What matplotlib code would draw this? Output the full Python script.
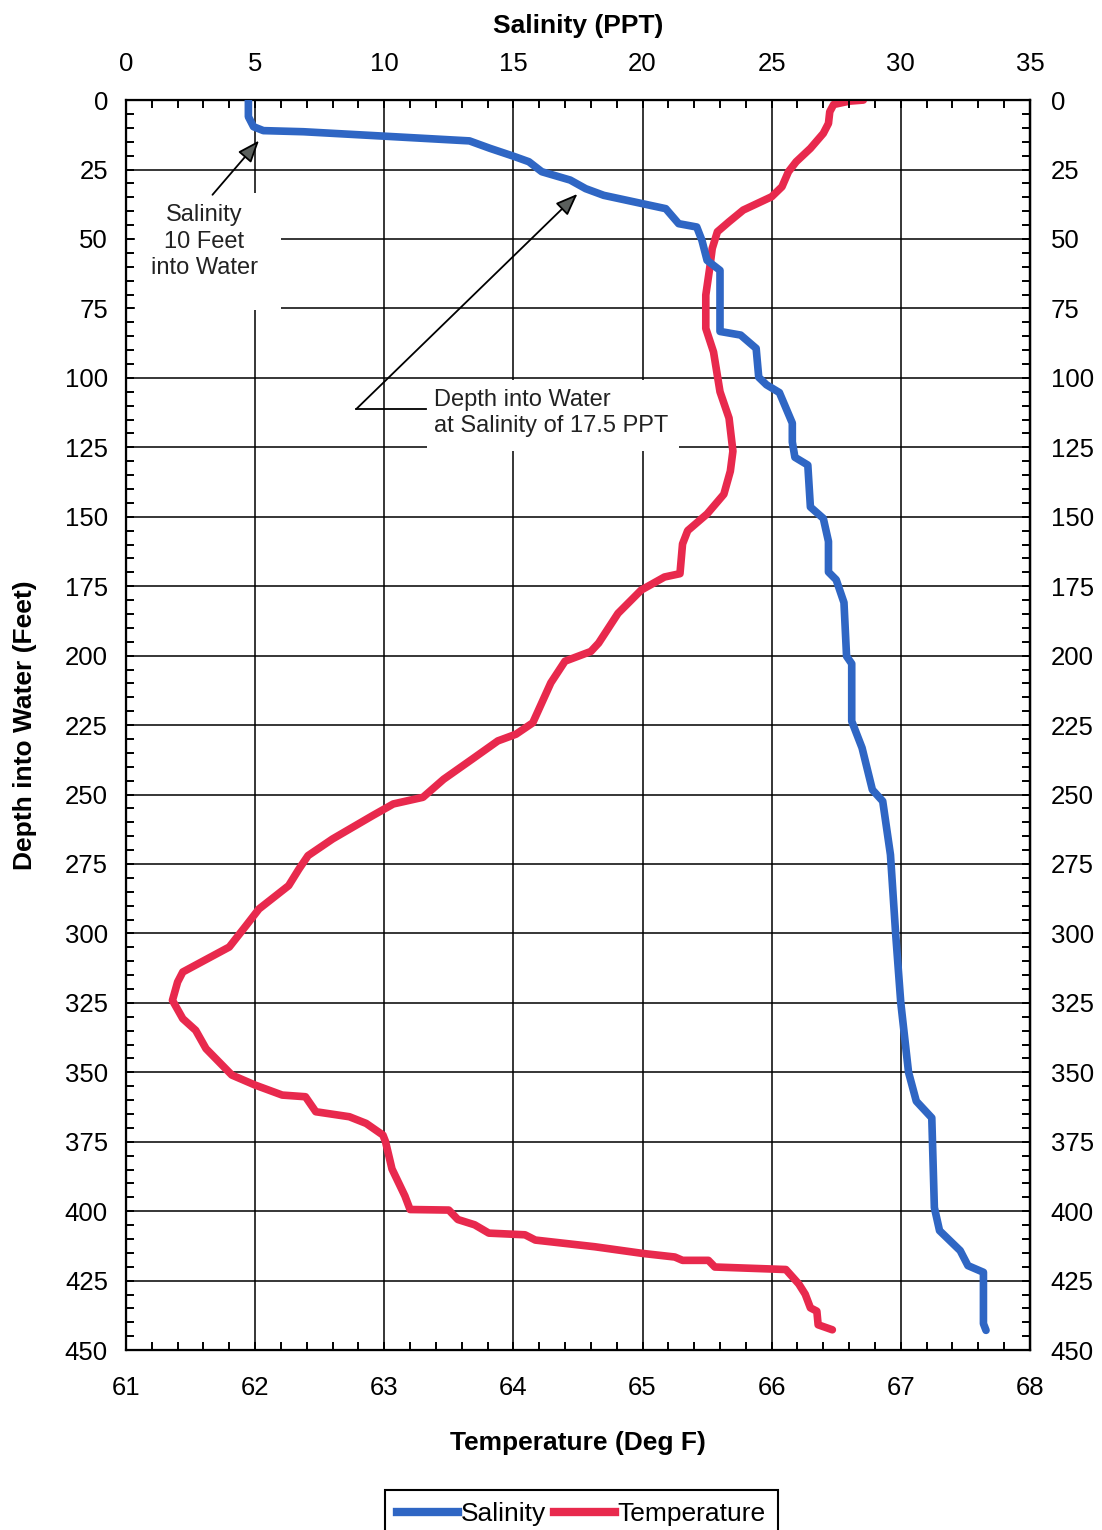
import matplotlib
matplotlib.use('Agg')
import matplotlib.pyplot as plt
from matplotlib.patches import Rectangle
from matplotlib.lines import Line2D
from matplotlib.ticker import MultipleLocator

plt.rcParams['font.family'] = ['Liberation Sans', 'DejaVu Sans']

# salinity profile: PPT against depth (feet)
sal_depth = [0, 6, 9.6, 11, 11.4, 13, 14.7, 17.4, 20.2, 22.2, 25.8, 28.8, 31.9, 34.3,
             37.3, 39.1, 44.5, 45.7, 50.5, 57.7, 61.3, 83.3, 84.6, 89.4, 99.8, 102.5,
             105.3, 116.3, 123.1, 128.6, 131.4, 146.5, 150.6, 158.9, 169.9, 172.7,
             180.9, 200.2, 202.9, 223.6, 233.2, 248.3, 252.4, 271.7, 300, 325, 350,
             360.4, 366.4, 398.7, 407, 414.2, 419.6, 422, 440.5, 442.9]
salinity = [4.74, 4.74, 4.94, 5.32, 6.87, 10.0, 13.3, 14.1, 15.0, 15.6, 16.1, 17.2, 17.8, 18.5,
            20.0, 20.9, 21.4, 22.1, 22.3, 22.5, 23.0, 23.0, 23.8, 24.4, 24.5, 24.8,
            25.3, 25.8, 25.8, 25.9, 26.4, 26.5, 27.0, 27.2, 27.2, 27.5,
            27.8, 27.9, 28.1, 28.1, 28.5, 28.9, 29.3, 29.6, 29.8, 30.0, 30.3,
            30.6, 31.2, 31.3, 31.5, 32.3, 32.6, 33.2, 33.2, 33.3]

# temperature profile: deg F against depth (feet)
temp_depth = [0, 0.4, 1.6, 4.2, 8.4, 12, 17.4, 22.2, 25.8, 31.2, 34.8, 37.2, 39.6, 43.8,
              47.4, 53.4, 60.6, 70.2, 82.2, 90.7, 105, 114.5, 126.4, 133.6, 141.9, 149,
              155, 159.8, 170.5, 171.7, 176.4, 184.8, 195.5, 198.5, 202, 209.8, 224.2,
              228.3, 230.7, 237.3, 244.5, 251, 253.4, 257.6, 266, 272, 276.8, 282.8,
              291.2, 297.2, 304.9, 313.9, 317.5, 324.1, 330.7, 334.9, 341.5, 351,
              354.6, 358.2, 358.8, 364.2, 366, 368.4, 372.6, 375, 384.8, 394.5, 399.4,
              399.6, 403, 404.9, 407.9, 408.5, 410.4, 412.8, 415.2, 416.5, 417.7,
              417.7, 420.1, 421, 426.2, 429.9, 434.8, 436, 440.9, 442.7]
temperature = [66.71, 66.60, 66.48, 66.45, 66.44, 66.40, 66.30, 66.19, 66.13, 66.08, 66.0, 65.89, 65.78, 65.67,
               65.58, 65.54, 65.52, 65.49, 65.49, 65.55, 65.60, 65.67, 65.70, 65.68, 65.63, 65.50,
               65.35, 65.31, 65.29, 65.17, 64.99, 64.81, 64.66, 64.60, 64.40, 64.29, 64.15,
               64.02, 63.88, 63.68, 63.46, 63.30, 63.07, 62.91, 62.60, 62.41, 62.34, 62.26,
               62.03, 61.93, 61.80, 61.44, 61.40, 61.36, 61.44, 61.54, 61.62, 61.82,
               62.0, 62.21, 62.39, 62.47, 62.73, 62.86, 62.99, 63.01, 63.06, 63.16, 63.20,
               63.50, 63.57, 63.70, 63.81, 64.09, 64.17, 64.63, 65.0, 65.25, 65.31,
               65.51, 65.56, 66.11, 66.21, 66.26, 66.30, 66.35, 66.36, 66.47]

depth_ticks = list(range(0, 451, 25))
temp_ticks = [61, 62, 63, 64, 65, 66, 67, 68]
sal_ticks = [0, 5, 10, 15, 20, 25, 30, 35]

BLUE = '#2f66c4'
RED = '#e8294d'
TICK_FS = 18.5
TITLE_FS = 19
NOTE_FS = 17

fig = plt.figure(figsize=(11.02, 15.30), dpi=100)
ax = fig.add_axes([0.1143, 0.1176, 0.8203, 0.817])
ax.set_xlim(61, 68)
ax.set_ylim(450, 0)
ax.set_xticks(temp_ticks)
ax.xaxis.set_minor_locator(MultipleLocator(0.2))
ax.set_yticks(depth_ticks)
ax.yaxis.set_minor_locator(MultipleLocator(5))
ax.grid(True, which='major', color='black', lw=1.1)
for s in ax.spines.values():
    s.set_linewidth(1.6)

# salinity scale along the top
ax2 = ax.twiny()
ax2.set_xlim(0, 35)
ax2.set_xticks(sal_ticks)
ax2.xaxis.set_minor_locator(MultipleLocator(1))

ax.tick_params(axis='x', which='both', direction='in', bottom=True, top=False,
               labelsize=TICK_FS, pad=19)
ax.tick_params(axis='y', which='both', direction='in', left=True, right=False,
               labelsize=TICK_FS, pad=13)
ax2.tick_params(axis='x', which='both', direction='in', top=True, bottom=False,
                labelsize=TICK_FS, pad=17)

# depth repeated on the right
ax_r = ax.secondary_yaxis('right')
ax_r.set_yticks(depth_ticks)
ax_r.yaxis.set_minor_locator(MultipleLocator(5))
ax_r.tick_params(axis='y', which='both', direction='in', labelsize=TICK_FS, pad=15)
ax_r.spines['right'].set_linewidth(1.6)

for a in (ax, ax2, ax_r):
    a.tick_params(which='both', length=6, width=1.4, color='black')

ax.set_xlabel('Temperature (Deg F)', fontsize=TITLE_FS, fontweight='bold', labelpad=22)
ax2.set_xlabel('Salinity (PPT)', fontsize=TITLE_FS, fontweight='bold', labelpad=14)
ax.set_ylabel('Depth into Water (Feet)', fontsize=TITLE_FS, fontweight='bold', labelpad=20)

# white backing behind the two notes, hiding the grid
ax.add_patch(Rectangle((61.07, 33.5), 1.13, 42.1, facecolor='white', edgecolor='none', zorder=1.8))
ax.add_patch(Rectangle((63.33, 100.6), 1.95, 25.7, facecolor='white', edgecolor='none', zorder=1.8))

ax.plot(temperature, temp_depth, color=RED, lw=5.5, solid_joinstyle='round',
        solid_capstyle='round', zorder=3)
ax2.plot(salinity, sal_depth, color=BLUE, lw=5.5, solid_joinstyle='round',
         solid_capstyle='round', zorder=3)

arrow = dict(arrowstyle='-|>,head_length=0.9,head_width=0.35', fc='#5b605d', ec='black',
             lw=1.3, shrinkA=0, shrinkB=0, mutation_scale=15)
ax2.text(3.03, 51, 'Salinity\n10 Feet\ninto Water', ha='center', va='center',
         fontsize=NOTE_FS, linespacing=1.25, color='#222222')
ax2.annotate('', xy=(5.15, 14.6), xytext=(3.35, 34.1), arrowprops=arrow)

ax2.text(11.91, 112.7, 'Depth into Water\nat Salinity of 17.5 PPT', ha='left', va='center',
         fontsize=NOTE_FS, linespacing=1.25, color='#222222')
ax2.annotate('', xy=(17.48, 33.8), xytext=(8.92, 111.2), arrowprops=arrow)
ax2.plot([8.92, 11.63], [111.2, 111.2], color='black', lw=1.3)

handles = [Line2D([], [], color=BLUE, lw=6), Line2D([], [], color=RED, lw=6)]
leg = fig.legend(handles, ['Salinity', 'Temperature'], loc='upper left',
                 bbox_to_anchor=(385 / 1102, 1 - 1490 / 1530), ncol=2, fontsize=19,
                 frameon=True, fancybox=False, edgecolor='black', framealpha=1,
                 handlelength=2.3, handletextpad=0.12, columnspacing=0.3,
                 borderpad=0.45, borderaxespad=0)
leg.get_frame().set_linewidth(1.5)

fig.savefig('out.png', dpi=100)
